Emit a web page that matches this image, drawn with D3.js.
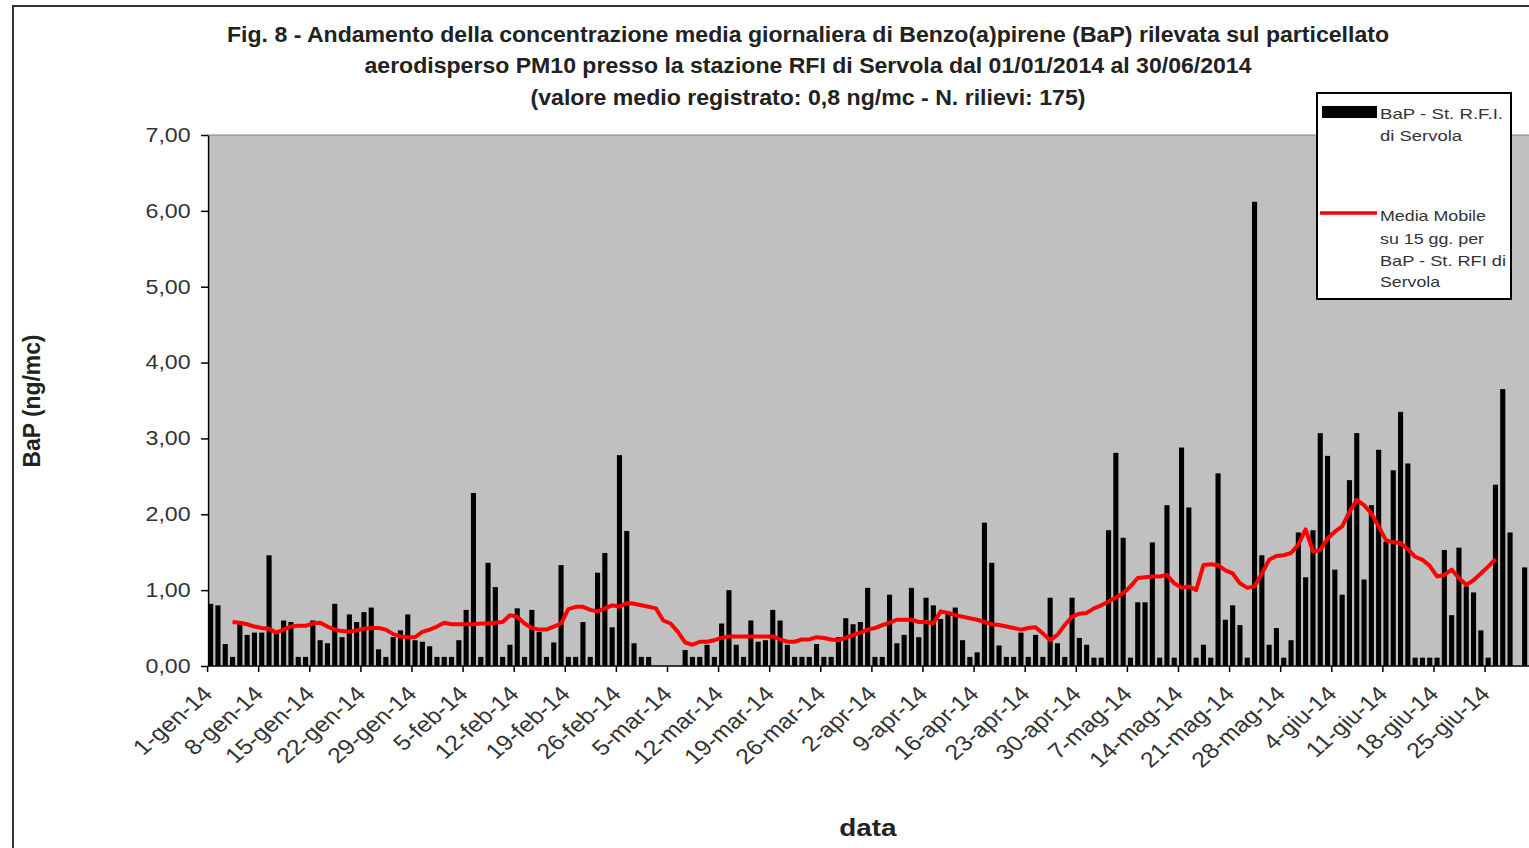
<!DOCTYPE html>
<html lang="it">
<head>
<meta charset="utf-8">
<title>BaP - Servola</title>
<script src="https://d3js.org/d3.v7.min.js"></script>
<style>
  body { margin: 0; background: #fff; }
  text { font-family: "Liberation Sans", Arial, sans-serif; fill: #222; }
  .axis path, .axis line { stroke: #000; }
</style>
</head>
<body>
<div id="chart"></div>
<script>
// window and the horizontal stretch of the original picture
var W = 1529, H = 848;
var sx = 1.16;
function nx(v) { return v / sx; }

// categories: one per day, 1 Jan 2014 - 30 Jun 2014
var days = d3.timeDay.range(new Date(2014, 0, 1), new Date(2014, 6, 1));

var tickLabels = ["1-gen-14","8-gen-14","15-gen-14","22-gen-14","29-gen-14","5-feb-14","12-feb-14",
  "19-feb-14","26-feb-14","5-mar-14","12-mar-14","19-mar-14","26-mar-14","2-apr-14","9-apr-14",
  "16-apr-14","23-apr-14","30-apr-14","7-mag-14","14-mag-14","21-mag-14","28-mag-14","4-giu-14",
  "11-giu-14","18-giu-14","25-giu-14"];

// daily BaP (ng/mc), null = no measurement
var bapValues = [
  0.82,0.80,0.29,0.12,0.55,0.41,0.44,0.44,1.46,0.43,0.60,0.58,0.12,0.12,0.60,0.34,0.30,0.82,0.38,0.68,
  0.58,0.71,0.77,0.22,0.12,0.38,0.47,0.68,0.34,0.32,0.26,0.12,0.12,0.12,0.34,0.74,2.28,0.12,1.36,1.04,
  0.12,0.28,0.76,0.12,0.74,0.45,0.12,0.31,1.33,0.12,0.12,0.58,0.12,1.23,1.49,0.51,2.78,1.78,0.30,0.12,
  0.12,null,null,null,null,0.21,0.12,0.12,0.28,0.12,0.56,1.00,0.28,0.12,0.60,0.32,0.34,0.74,0.60,0.28,
  0.12,0.12,0.12,0.29,0.12,0.12,0.38,0.63,0.55,0.58,1.03,0.12,0.12,0.94,0.30,0.41,1.03,0.38,0.90,0.80,
  0.62,0.72,0.77,0.34,0.12,0.18,1.89,1.36,0.27,0.12,0.12,0.44,0.12,0.41,0.12,0.90,0.30,0.12,0.90,0.37,
  0.28,0.11,0.11,1.79,2.81,1.69,0.11,0.84,0.84,1.63,0.11,2.12,0.11,2.88,2.09,0.11,0.28,0.11,2.54,0.61,
  0.80,0.54,0.11,6.12,1.46,0.28,0.50,0.11,0.34,1.76,1.17,1.79,3.07,2.77,1.27,0.94,2.45,3.07,1.14,2.12,
  2.85,1.64,2.58,3.35,2.67,0.11,0.11,0.11,0.11,1.53,0.67,1.56,1.05,0.97,0.47,0.11,2.39,3.65,1.76,null,
  1.30
];

// 15-day moving average as drawn
var movingAvg = [
  null,null,null,0.58,0.57,0.55,0.52,0.50,0.49,0.44,0.48,0.52,0.53,0.53,0.56,0.57,0.52,0.48,0.46,0.45,
  0.47,0.49,0.50,0.50,0.48,0.42,0.39,0.38,0.38,0.45,0.48,0.52,0.57,0.55,0.55,0.55,0.55,0.56,0.56,0.57,
  0.58,0.67,0.65,0.56,0.50,0.48,0.48,0.52,0.56,0.75,0.78,0.78,0.74,0.72,0.76,0.80,0.78,0.83,0.82,0.80,
  0.78,0.76,0.60,0.56,0.45,0.31,0.28,0.32,0.32,0.34,0.37,0.39,0.39,0.39,0.39,0.39,0.39,0.39,0.35,0.32,
  0.32,0.35,0.35,0.38,0.37,0.35,0.34,0.37,0.41,0.44,0.48,0.50,0.54,0.57,0.61,0.61,0.61,0.58,0.58,0.56,
  0.72,0.70,0.67,0.65,0.63,0.61,0.58,0.55,0.54,0.52,0.50,0.48,0.50,0.51,0.43,0.34,0.41,0.54,0.65,0.69,
  0.70,0.76,0.80,0.85,0.90,0.96,1.05,1.16,1.17,1.18,1.18,1.20,1.09,1.03,1.05,1.00,1.33,1.34,1.33,1.26,
  1.22,1.09,1.03,1.05,1.22,1.40,1.45,1.46,1.49,1.60,1.80,1.51,1.53,1.68,1.77,1.84,2.03,2.19,2.12,2.01,
  1.84,1.66,1.63,1.62,1.54,1.44,1.40,1.32,1.18,1.20,1.27,1.16,1.07,1.13,1.22,1.31,1.41,null,null,null,
  null
];

var titleLines = [
  "Fig. 8 - Andamento della concentrazione media giornaliera di Benzo(a)pirene (BaP) rilevata sul particellato",
  "aerodisperso PM10 presso la stazione RFI di Servola dal 01/01/2014 al 30/06/2014",
  "(valore medio registrato: 0,8 ng/mc - N. rilievi: 175)"
];

var svg = d3.select("#chart").append("svg").attr("width", W).attr("height", H);
svg.append("rect").attr("width", W).attr("height", H).attr("fill", "#fff");
var g = svg.append("g").attr("transform", "scale(" + sx + ",1)");

// outer frame
g.append("rect").attr("x", nx(13)).attr("y", 6).attr("width", nx(1600)).attr("height", 1000)
  .attr("fill", "none").attr("stroke", "#333").attr("stroke-width", 2)
  .attr("vector-effect", "non-scaling-stroke");

var x = d3.scaleBand().domain(d3.range(days.length)).range([nx(207), nx(1528.3)])
  .paddingInner(0.3).paddingOuter(0.15);
var xt = d3.scaleLinear().domain([0, days.length]).range(x.range());
var y = d3.scaleLinear().domain([0, 7]).range([666, 135]);

// plot area
g.append("rect").attr("x", nx(208)).attr("y", y(7)).attr("width", nx(1529) - nx(208))
  .attr("height", y(0) - y(7)).attr("fill", "#c0c0c0");
g.append("line").attr("x1", nx(208)).attr("x2", nx(1529)).attr("y1", y(7)).attr("y2", y(7))
  .attr("stroke", "#808080").attr("stroke-width", 1).attr("vector-effect", "non-scaling-stroke");

// bars
var barData = bapValues.map(function(v, i) { return { i: i, v: v }; })
  .filter(function(d) { return d.v !== null; });
g.selectAll("rect.bar").data(barData).enter().append("rect").attr("class", "bar")
  .attr("x", function(d) { return x(d.i); })
  .attr("width", x.bandwidth())
  .attr("y", function(d) { return y(d.v); })
  .attr("height", function(d) { return y(0) - y(d.v); })
  .attr("fill", "#000");

// moving average
var line = d3.line()
  .defined(function(d) { return d !== null; })
  .x(function(d, i) { return x(i) + x.bandwidth() / 2; })
  .y(function(d) { return y(d); });
g.append("path").datum(movingAvg).attr("d", line).attr("fill", "none")
  .attr("stroke", "#ff0000").attr("stroke-width", 4).attr("stroke-linejoin", "round")
  .attr("vector-effect", "non-scaling-stroke");

// y axis
var fmt = d3.format(".2f");
var yAxis = d3.axisLeft(y).tickValues(d3.range(0, 8)).tickSizeInner(6).tickSizeOuter(0)
  .tickPadding(9).tickFormat(function(d) { return fmt(d).replace(".", ","); });
var gy = g.append("g").attr("class", "axis").attr("transform", "translate(" + nx(208) + ",0)").call(yAxis);
gy.selectAll("path, line").attr("stroke-width", 1.5).attr("vector-effect", "non-scaling-stroke");
gy.selectAll("text").style("font-size", "20px").style("fill", "#333");

// x axis
var tickIdx = d3.range(0, days.length, 7);
var xAxis = d3.axisBottom(xt).tickValues(tickIdx).tickSizeInner(6).tickSizeOuter(0)
  .tickFormat(function(d) { return tickLabels[d / 7]; });
var gx = g.append("g").attr("class", "axis").attr("transform", "translate(0," + y(0) + ")").call(xAxis);
gx.select("path").attr("d", "M" + nx(208) + ",0H" + nx(1529));
gx.selectAll("path, line").attr("stroke-width", 1.5).attr("vector-effect", "non-scaling-stroke");
gx.selectAll("text").attr("x", 0).attr("y", 0).attr("dy", "0.35em")
  .attr("transform", "translate(0,24) rotate(-45)")
  .style("text-anchor", "end").style("font-size", "21.5px").style("fill", "#333");

// title
g.selectAll("text.title").data(titleLines).enter().append("text").attr("class", "title")
  .attr("x", nx(808)).attr("y", function(d, i) { return 42 + i * 31.5; })
  .attr("text-anchor", "middle").style("font-weight", "bold").style("font-size", "22px")
  .attr("textLength", function(d, i) { return nx([1162, 887, 555][i]); })
  .attr("lengthAdjust", "spacingAndGlyphs")
  .text(function(d) { return d; });

// axis titles
g.append("text").attr("x", nx(868)).attr("y", 836).attr("text-anchor", "middle")
  .style("font-weight", "bold").style("font-size", "24px").text("data");
g.append("text").attr("transform", "translate(" + nx(40) + ",401) rotate(-90)")
  .attr("text-anchor", "middle").style("font-weight", "bold").style("font-size", "20px")
  .attr("textLength", 133).attr("lengthAdjust", "spacingAndGlyphs").text("BaP (ng/mc)");

// legend
var lg = g.append("g");
lg.append("rect").attr("x", nx(1317)).attr("y", 93).attr("width", nx(1511) - nx(1317)).attr("height", 206)
  .attr("fill", "#fff").attr("stroke", "#000").attr("stroke-width", 2).attr("vector-effect", "non-scaling-stroke");
lg.append("rect").attr("x", nx(1322)).attr("y", 106).attr("width", nx(1377) - nx(1322)).attr("height", 12)
  .attr("fill", "#000");
lg.append("line").attr("x1", nx(1320)).attr("x2", nx(1377)).attr("y1", 213).attr("y2", 213)
  .attr("stroke", "#ff0000").attr("stroke-width", 3.5).attr("vector-effect", "non-scaling-stroke");
var legendText = [
  ["BaP - St. R.F.I.", 119, 123], ["di Servola", 141, 82],
  ["Media Mobile", 221, 106], ["su 15 gg. per", 244, 104],
  ["BaP - St. RFI di", 266, 126], ["Servola", 287, 60]
];
lg.selectAll("text").data(legendText).enter().append("text")
  .attr("x", nx(1380)).attr("y", function(d) { return d[1]; })
  .style("font-size", "15px").style("fill", "#333")
  .attr("textLength", function(d) { return nx(d[2]); }).attr("lengthAdjust", "spacingAndGlyphs")
  .text(function(d) { return d[0]; });
</script>
</body>
</html>
